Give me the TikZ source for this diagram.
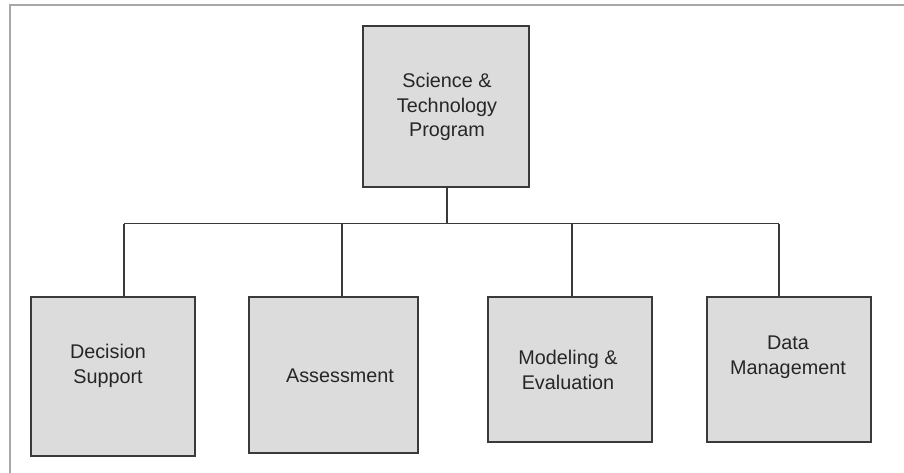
\documentclass[tikz,border=0pt]{standalone}
\usepackage{fontspec}
\setmainfont{Liberation Sans}
\definecolor{boxfill}{HTML}{DCDCDC}
\definecolor{boxline}{HTML}{3A3A3A}
\definecolor{framecol}{HTML}{A8A8A8}
\tikzset{
  orgbox/.style={draw=boxline, line width=1.4pt, fill=boxfill, inner sep=0pt},
  orglabel/.style={align=center, text=black!85, font=\fontsize{19.8}{24.5}\selectfont, inner sep=0pt},
  wire/.style={draw=boxline, line width=1.3pt},
  framestyle/.style={draw=framecol, line width=2pt}
}
\begin{document}
\begin{tikzpicture}[x=1pt,y=-1pt]
\useasboundingbox (0,0) rectangle (904,473);
\fill[white] (0,0) rectangle (904,473);
% outer frame (top and left only visible)
\coordinate (fa) at (904,5);
\coordinate (fb) at (9.5,5);
\coordinate (fc) at (9.5,473);
\draw[framestyle] (fa) -- (fb) -- (fc);
% boxes
\node[orgbox, minimum width=166pt, minimum height=161pt] (top) at (446,106.5) {};
\node[orgbox, minimum width=164pt, minimum height=159pt] (ds) at (113,376.5) {};
\node[orgbox, minimum width=169pt, minimum height=156pt] (as) at (333.5,375) {};
\node[orgbox, minimum width=164pt, minimum height=145pt] (me) at (570,369.5) {};
\node[orgbox, minimum width=164pt, minimum height=145pt] (dm) at (789,369.5) {};
% labels
\node[orglabel] (ttop) at (447,107) {Science \&\\Technology\\Program};
\node[orglabel] (tds) at (108,366) {Decision\\Support};
\node[orglabel] (tas) at (340,376) {Assessment};
\node[orglabel] (tme) at (568,370) {Modeling \&\\Evaluation};
\node[orglabel] (tdm) at (788,357) {Data\\Management};
% connectors
\coordinate (topout) at (447,187);
\coordinate (bus) at (447,223.5);
\coordinate (dsin) at (124,297);
\coordinate (asin) at (342,297);
\coordinate (mein) at (572,297);
\coordinate (dmin) at (779,297);
\draw[wire] (topout) -- (bus);
\draw[wire] (dsin |- bus) -- (dmin |- bus);
\draw[wire] (dsin |- bus) -- (dsin);
\draw[wire] (asin |- bus) -- (asin);
\draw[wire] (mein |- bus) -- (mein);
\draw[wire] (dmin |- bus) -- (dmin);
\end{tikzpicture}
\end{document}
